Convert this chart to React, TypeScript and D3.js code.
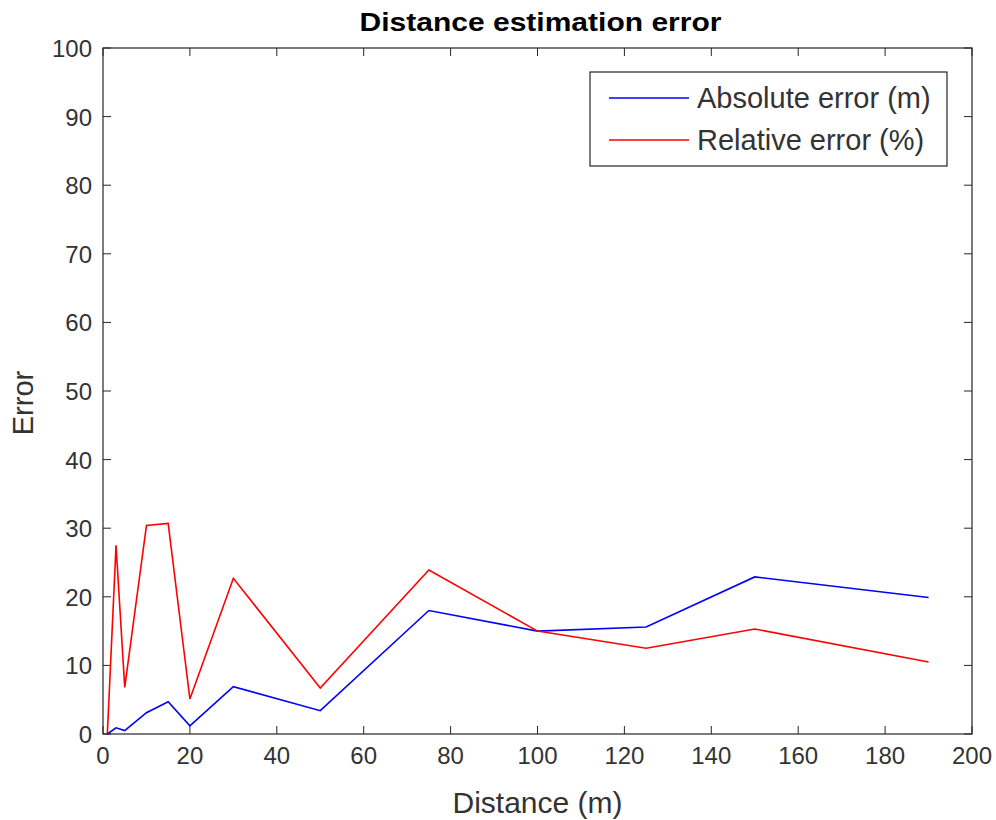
import React, { useEffect, useRef } from "react";
import * as d3 from "d3";

// distances (m) sampled
const distances = [1, 3, 5, 10, 15, 20, 30, 50, 75, 100, 125, 150, 190];
// absolute error (m)
const absoluteError = [0, 0.9, 0.5, 3.1, 4.7, 1.2, 6.9, 3.4, 18.0, 15.0, 15.6, 22.9, 19.9];
// relative error (%)
const relativeError = [0, 27.5, 6.8, 30.4, 30.7, 5.1, 22.7, 6.7, 23.9, 15.0, 12.5, 15.3, 10.5];

const xTicks = [0, 20, 40, 60, 80, 100, 120, 140, 160, 180, 200];
const yTicks = [0, 10, 20, 30, 40, 50, 60, 70, 80, 90, 100];

const seriesNames = ["Absolute error (m)", "Relative error (%)"];
const seriesColors = ["#0000ff", "#ff0000"];

const App = () => {
  const container = useRef<SVGSVGElement | null>(null);

  useEffect(() => {
    if (container.current) drawChart(container.current);
  }, []);

  return (
    <svg
      ref={container}
      width={996}
      height={820}
      style={{ position: "absolute", left: 0, top: 0, background: "#fff" }}
    />
  );
};

function drawChart(node: SVGSVGElement) {
  const svg = d3.select(node);
  svg.selectAll("*").remove();

  const font = "'Liberation Sans', Arial, Helvetica, sans-serif";
  const axisColor = "#262626";
  const labelColor = "#333";

  // plot box
  const left = 103,
    right = 972,
    top = 48,
    bottom = 734;

  const x = d3.scaleLinear().domain([0, 200]).range([left, right]);
  const y = d3.scaleLinear().domain([0, 100]).range([bottom, top]);

  const tickLen = 8;
  const g = svg.append("g");

  // ticks on all four sides, pointing inwards
  xTicks.forEach((t) => {
    g.append("line")
      .attr("x1", x(t)).attr("x2", x(t))
      .attr("y1", bottom).attr("y2", bottom - tickLen)
      .attr("stroke", axisColor);
    g.append("line")
      .attr("x1", x(t)).attr("x2", x(t))
      .attr("y1", top).attr("y2", top + tickLen)
      .attr("stroke", axisColor);
    g.append("text")
      .attr("x", x(t))
      .attr("y", bottom + 30)
      .attr("text-anchor", "middle")
      .attr("font-family", font)
      .attr("font-size", 24)
      .attr("fill", labelColor)
      .text(t);
  });

  yTicks.forEach((t) => {
    g.append("line")
      .attr("x1", left).attr("x2", left + tickLen)
      .attr("y1", y(t)).attr("y2", y(t))
      .attr("stroke", axisColor);
    g.append("line")
      .attr("x1", right).attr("x2", right - tickLen)
      .attr("y1", y(t)).attr("y2", y(t))
      .attr("stroke", axisColor);
    g.append("text")
      .attr("x", left - 11)
      .attr("y", y(t) + 9)
      .attr("text-anchor", "end")
      .attr("font-family", font)
      .attr("font-size", 24)
      .attr("fill", labelColor)
      .text(t);
  });

  // lines
  const seriesData = [absoluteError, relativeError];
  const line = d3
    .line<number>()
    .x((_, i) => x(distances[i]))
    .y((d) => y(d));

  seriesData.forEach((vals, i) => {
    g.append("path")
      .datum(vals)
      .attr("fill", "none")
      .attr("stroke", seriesColors[i])
      .attr("stroke-width", 1.6)
      .attr("d", line);
  });

  // box
  g.append("rect")
    .attr("x", left)
    .attr("y", top)
    .attr("width", right - left)
    .attr("height", bottom - top)
    .attr("fill", "none")
    .attr("stroke", axisColor)
    .attr("stroke-width", 1.2);

  // title
  svg.append("text")
    .attr("x", (left + right) / 2 + 3)
    .attr("y", 31)
    .attr("text-anchor", "middle")
    .attr("font-family", font)
    .attr("font-weight", "bold")
    .attr("font-size", 25)
    .attr("textLength", 362)
    .attr("lengthAdjust", "spacingAndGlyphs")
    .attr("fill", "#000")
    .text("Distance estimation error");

  // axis labels
  svg.append("text")
    .attr("x", (left + right) / 2)
    .attr("y", 813)
    .attr("text-anchor", "middle")
    .attr("font-family", font)
    .attr("font-size", 30)
    .attr("fill", labelColor)
    .text("Distance (m)");

  svg.append("text")
    .attr("transform", `translate(33,403) rotate(-90)`)
    .attr("text-anchor", "middle")
    .attr("font-family", font)
    .attr("font-size", 29)
    .attr("fill", labelColor)
    .text("Error");

  // legend
  const legend = svg.append("g");
  legend.append("rect")
    .attr("x", 590)
    .attr("y", 72)
    .attr("width", 357)
    .attr("height", 94)
    .attr("fill", "#fff")
    .attr("stroke", axisColor)
    .attr("stroke-width", 1.2);

  seriesNames.forEach((name, i) => {
    const ly = 98 + i * 42;
    legend.append("line")
      .attr("x1", 609).attr("x2", 689)
      .attr("y1", ly).attr("y2", ly)
      .attr("stroke", seriesColors[i])
      .attr("stroke-width", 1.6);
    legend.append("text")
      .attr("x", 697)
      .attr("y", ly + 10)
      .attr("font-family", font)
      .attr("font-size", 29)
      .attr("fill", labelColor)
      .text(name);
  });
}

export default App;
